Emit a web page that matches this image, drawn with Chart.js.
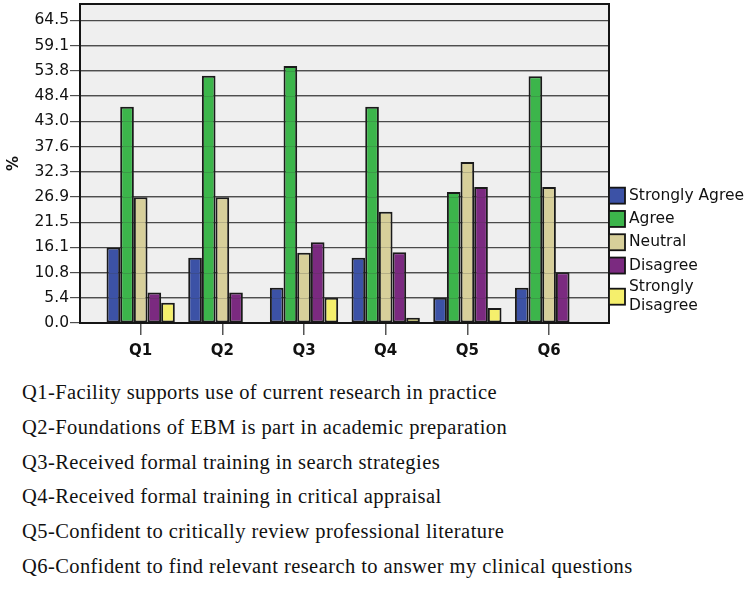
<!DOCTYPE html>
<html lang="en">
  <head>
    <meta charset="UTF-8" />
    <title>EBM survey responses</title>
    <script src="https://cdn.jsdelivr.net/npm/chart.js"></script>
    <style>
      body,
      html {
        margin: 0;
        background: #fff;
      }
      #wrap {
        position: relative;
        width: 750px;
        height: 610px;
      }
      #chartBox {
        position: absolute;
        left: 0;
        top: 0;
        width: 750px;
        height: 370px;
      }
      #notes {
        position: absolute;
        left: 22px;
        top: 375px;
        font-family: "Liberation Serif", serif;
        font-size: 20.5px;
        letter-spacing: 0.42px;
        line-height: 34.8px;
        color: #111;
        white-space: nowrap;
      }
    </style>
  </head>
  <body>
    <div id="wrap">
      <div id="chartBox"><canvas id="myChart" width="750" height="370"></canvas></div>
      <div id="notes"></div>
    </div>
    <script>
      const categories = ["Q1", "Q2", "Q3", "Q4", "Q5", "Q6"];
      const seriesNames = ["Strongly Agree", "Agree", "Neutral", "Disagree", "Strongly Disagree"];
      const stronglyAgree = [16.1, 13.9, 7.5, 13.9, 5.4, 7.5];
      const agree = [46.1, 52.7, 54.8, 46.1, 27.9, 52.6];
      const neutral = [26.8, 26.8, 15.0, 23.7, 34.3, 29.0];
      const disagree = [6.5, 6.5, 17.2, 15.1, 29.0, 10.8];
      const stronglyDisagree = [4.3, 0, 5.4, 1.1, 3.2, 0];
      const yTickLabels = ["0.0", "5.4", "10.8", "16.1", "21.5", "26.9", "32.3", "37.6", "43.0", "48.4", "53.8", "59.1", "64.5"];
      const questions = [
        "Q1-Facility supports use of current research in practice",
        "Q2-Foundations of EBM is part in academic preparation",
        "Q3-Received formal training in search strategies",
        "Q4-Received formal training in critical appraisal",
        "Q5-Confident to critically review professional literature",
        "Q6-Confident to find relevant research to answer my clinical questions",
      ];

      const colors = ["#3c52a6", "#3cb54b", "#d7cf9a", "#7b2a80", "#f5ef6c"];
      const allSeries = [stronglyAgree, agree, neutral, disagree, stronglyDisagree];
      const yStep = 64.5 / 12;

      document.getElementById("notes").innerHTML = questions.map((q) => `<div>${q}</div>`).join("");

      // plot background + frame + faint grid over bars + legend
      const framePlugin = {
        id: "frame",
        beforeDraw(chart) {
          const { ctx, chartArea: a } = chart;
          ctx.save();
          ctx.fillStyle = "#efefef";
          ctx.fillRect(a.left, a.top, a.right - a.left, a.bottom - a.top);
          ctx.restore();
        },
        afterDatasetsDraw(chart) {
          const { ctx, chartArea: a } = chart;
          const y = chart.scales.y;
          ctx.save();
          ctx.strokeStyle = "rgba(60,60,60,0.22)";
          ctx.lineWidth = 1;
          yTickLabels.forEach((_, i) => {
            if (i === 0) return;
            const py = Math.round(y.getPixelForValue(i * yStep)) + 0.5;
            ctx.beginPath();
            ctx.moveTo(a.left, py);
            ctx.lineTo(a.right, py);
            ctx.stroke();
          });
          ctx.strokeStyle = "#151515";
          ctx.lineWidth = 2;
          ctx.strokeRect(a.left, a.top, a.right - a.left, a.bottom - a.top);

          // legend
          ctx.font = "15.5px 'DejaVu Sans'";
          ctx.textBaseline = "middle";
          ctx.textAlign = "left";
          let top = a.bottom - 139;
          seriesNames.forEach((name, i) => {
            const lines = name === "Strongly Disagree" ? ["Strongly", "Disagree"] : [name];
            const h = lines.length === 1 ? 23.3 : 39;
            const cy = top + h / 2;
            ctx.fillStyle = colors[i];
            ctx.fillRect(a.right, cy - 8, 16, 16);
            ctx.strokeStyle = "#151515";
            ctx.lineWidth = 1.8;
            ctx.strokeRect(a.right, cy - 8, 16, 16);
            ctx.fillStyle = "#111";
            lines.forEach((t, k) => {
              ctx.fillText(t, a.right + 20, cy + (k - (lines.length - 1) / 2) * 19.5);
            });
            top += h;
          });
          ctx.restore();
        },
      };

      const ctx = document.getElementById("myChart").getContext("2d");
      new Chart(ctx, {
        type: "bar",
        data: {
          datasets: allSeries.map((vals, i) => ({
            label: seriesNames[i],
            data: vals.map((v, k) => ({ x: k + 1, y: v })),
            backgroundColor: colors[i],
            borderColor: "#1a1a1a",
            borderWidth: 2,
            borderSkipped: false,
            barPercentage: 1,
            categoryPercentage: 0.836,
          })),
        },
        options: {
          responsive: false,
          animation: false,
          devicePixelRatio: 1,
          layout: { padding: { top: 4, right: 141, left: 0, bottom: 0 } },
          plugins: { legend: { display: false }, tooltip: { enabled: false } },
          scales: {
            x: {
              type: "linear",
              offset: false,
              min: 0.257,
              max: 6.734,
              afterBuildTicks: (s) => {
                s.ticks = categories.map((_, i) => ({ value: i + 1 }));
              },
              afterFit: (s) => {
                s.height = 47;
              },
              grid: { offset: false, drawOnChartArea: false, drawTicks: true, tickLength: 12, color: "#555", lineWidth: 1.5 },
              border: { display: false },
              ticks: {
                padding: 7,
                color: "#111",
                font: { family: "DejaVu Sans", size: 15, weight: "bold" },
                callback: (v) => categories[v - 1],
              },
            },
            y: {
              min: 0,
              max: 68,
              afterBuildTicks: (s) => {
                s.ticks = yTickLabels.map((_, i) => ({ value: i * yStep }));
              },
              afterFit: (s) => {
                s.width = 80;
                s.paddingTop = 0;
                s.paddingBottom = 0;
              },
              grid: { color: "#4e4e4e", lineWidth: 1.2, tickLength: 10 },
              border: { display: false },
              ticks: {
                padding: 1,
                color: "#111",
                font: { family: "DejaVu Sans", size: 15.5 },
                callback: (v, i) => yTickLabels[i],
              },
              title: {
                display: true,
                text: "%",
                color: "#111",
                padding: { top: 5, bottom: 2 },
                font: { family: "DejaVu Sans", size: 15, weight: "bold" },
              },
            },
          },
        },
        plugins: [framePlugin],
      });
    </script>
  </body>
</html>
